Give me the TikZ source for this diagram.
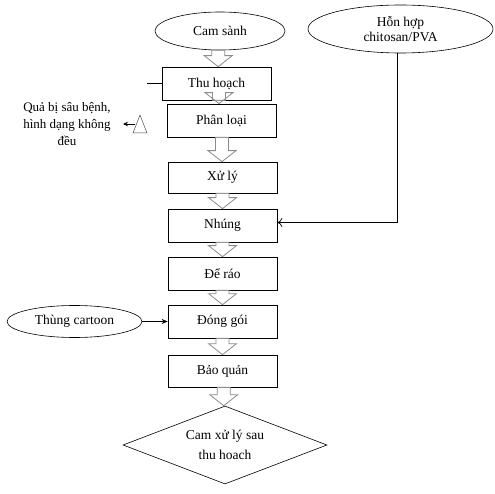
\documentclass[tikz,border=0pt]{standalone}
\usepackage{fontspec}
\setmainfont{Liberation Serif}
\usetikzlibrary{shapes.geometric,arrows.meta,calc}
\newcommand\blockarr[2]{%
  \draw[barrow] let \p1=(#1), \p2=(#2), \n1={(\x1+\x2)/2} in
   ({\n1-6.5},\y1) -- ({\n1+6.5},\y1) -- ({\n1+6.5},{\y2+11}) -- ({\n1+14},{\y2+11})
   -- (\n1,\y2) -- ({\n1-14},{\y2+11}) -- ({\n1-6.5},{\y2+11}) -- cycle;}
\begin{document}
\begin{tikzpicture}[x=1pt,y=-1pt,
  font=\fontsize{13.5}{16}\selectfont,
  every node/.style={inner sep=0pt},
  proc/.style={draw, line width=0.7pt, minimum width=109pt, minimum height=33pt},
  ell/.style={draw, ellipse, line width=0.6pt, align=center},
  barrow/.style={draw=black!45, fill=white, line width=0.8pt, line join=miter},
  conn/.style={line width=0.7pt}]
\fill[white] (0,0) rectangle (495,494);
\useasboundingbox (0,0) rectangle (495,494);

\node[ell, minimum width=130pt, minimum height=38pt] (cs) at (220,31) {Cam sành};
\node[ell, minimum width=185pt, minimum height=48pt, font=\fontsize{13.5}{15}\selectfont] (hh) at (400.5,29) {Hỗn hợp\\chitosan/PVA};
\node[proc] (th) at (216.5,83.5) {Thu hoạch};
\node[proc] (pl) at (221.5,120.5) {Phân loại};
\node[proc, minimum height=31pt] (xl) at (222.5,177.5) {Xử lý};
\node[proc] (nh) at (222.5,225.5) {Nhúng};
\node[proc] (dr) at (222.5,273.5) {Để ráo};
\node[proc] (dg) at (222.5,321.5) {Đóng gói};
\node[proc, minimum height=32pt] (bq) at (222.5,371) {Bảo quản};
\node[draw, diamond, line width=0.6pt, shape aspect=2.6, minimum width=204pt, minimum height=78pt,
  align=center, font=\fontsize{13.5}{20}\selectfont] (out) at (225,445) {Cam xử lý sau\\thu hoach};
\node[ell, minimum width=135pt, minimum height=32pt] (tc) at (74.5,321.5) {Thùng cartoon};
\node[align=center, font=\fontsize{13}{17}\selectfont] (bad) at (67,124) {Quả bị sâu bệnh,\\hình dạng không\\đều};

% triangle and small arrow
\draw[line width=0.5pt, draw=black!70] (140,115) -- (147,133) -- (133,133) -- cycle;
\coordinate (trl) at (135,124);
\coordinate (tre) at (123,124);
\draw[conn, -{Stealth[length=5pt,width=4.5pt]}] (trl) -- (tre);

% short line left of Thu hoach
\coordinate (thl) at (147,83.5);
\draw[conn] (th.west) -- (thl);

% block arrows
\blockarr{cs.south}{th.north}
\blockarr{th.south}{pl.north}
\blockarr{pl.south}{xl.north}
\blockarr{xl.south}{nh.north}
\blockarr{nh.south}{dr.north}
\blockarr{dr.south}{dg.north}
\blockarr{dg.south}{bq.north}
\blockarr{bq.south}{out.north}

% connectors
\draw[conn, -{To[length=5pt,width=9pt]}] ([xshift=-3.5pt]hh.south) |- ([yshift=3pt]nh.east);
\draw[conn, -{Stealth[length=6pt,width=5pt]}] (tc.east) -- (tc.east -| dg.west);
\end{tikzpicture}
\end{document}
